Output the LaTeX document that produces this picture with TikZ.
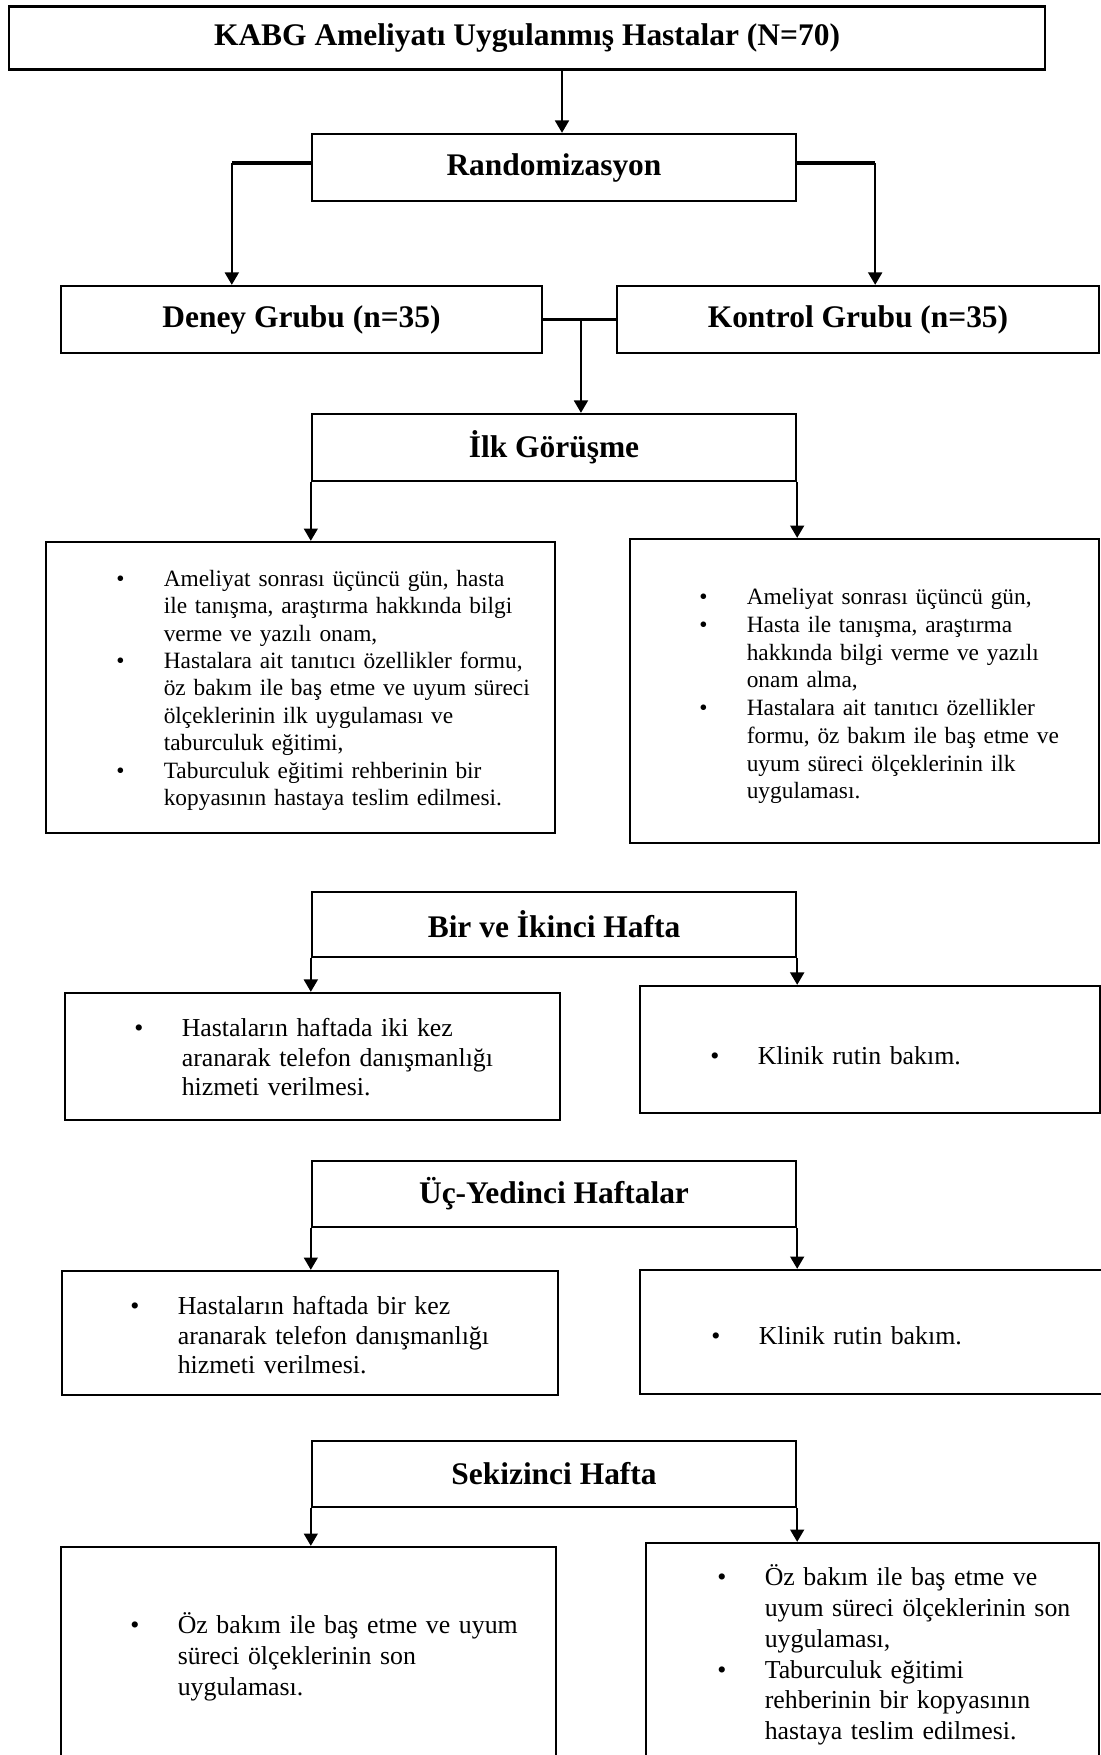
\documentclass[tikz,border=0pt]{standalone}
\usepackage{fontspec}
\setmainfont{Liberation Serif}
\usetikzlibrary{arrows.meta,calc,positioning}
\setlength{\parskip}{0pt}
\newcommand{\blt}[1]{\par\noindent\hangindent=27pt\hangafter=1\makebox[27pt][l]{\textbullet}\rule{0pt}{13.5pt}#1\par}

\begin{document}
\begin{tikzpicture}[x=0.02cm, y=-0.02cm,
  hbox/.style 2 args={draw, line width=1.4pt, inner sep=0pt, minimum width=#1cm, minimum height=#2cm, font=\bfseries\fontsize{17.9}{21}\selectfont},
  cbox/.style 2 args={draw, line width=1.4pt, inner sep=0pt, minimum width=#1cm, minimum height=#2cm},
  arr/.style={-{Triangle[length=7pt,width=8pt]}, line width=0.8pt},
  bar/.style={line width=1.9pt},
  txt/.style={anchor=north west, inner sep=0pt, text width=#1cm, execute at begin node={\raggedright\lineskiplimit=-20pt}}
]
\useasboundingbox (0,0) rectangle (1101,1755);
\clip (0,0) rectangle (1101,1755);

% headings
\node[hbox={20.72}{1.26}] (title) at (527,38) {KABG Ameliyatı Uygulanmış Hastalar (N=70)};
\node[hbox={9.68}{1.34}] (rand) at (554,167.5) {Randomizasyon};
\node[hbox={9.62}{1.34}] (deney) at (301.5,319.5) {Deney Grubu (n=35)};
\node[hbox={9.64}{1.34}] (kontrol) at (858,319.5) {Kontrol Grubu (n=35)};
\node[hbox={9.68}{1.34}] (ilk) at (554,447.5) {İlk Görüşme};
\node[hbox={9.68}{1.30}] (bir) at (554,924.5) {Bir ve İkinci Hafta};
\node[hbox={9.68}{1.32}] (uc) at (554,1194) {Üç-Yedinci Haftalar};
\node[hbox={9.68}{1.32}] (sek) at (554,1474) {Sekizinci Hafta};

% content boxes
\node[cbox={10.18}{5.82}] (ilkL) at (300.5,687.5) {};
\node[cbox={9.38}{6.08}] (ilkR) at (864.5,691) {};
\node[cbox={9.9}{2.54}] (birL) at (312.5,1056.5) {};
\node[cbox={9.2}{2.54}] (birR) at (870,1049.5) {};
\node[cbox={9.92}{2.48}] (ucL) at (310,1333) {};
\node[cbox={9.5}{2.48}] (ucR) at (877.5,1332) {};
\node[cbox={9.9}{5.06}] (sekL) at (308.5,1673.5) {};
\node[cbox={9.06}{5.14}] (sekR) at (872.5,1671.5) {};

% texts
\node[txt=8.5, font=\fontsize{13.3}{15.6}\selectfont] (ilkLt) at (116,558.5) {%
\blt{Ameliyat sonrası üçüncü gün, hasta\newline ile tanışma, araştırma hakkında bilgi\newline verme ve yazılı onam,}
\blt{Hastalara ait tanıtıcı özellikler formu,\newline öz bakım ile baş etme ve uyum süreci\newline ölçeklerinin ilk uygulaması ve\newline taburculuk eğitimi,}
\blt{Taburculuk eğitimi rehberinin bir\newline kopyasının hastaya teslim edilmesi.}};
\node[txt=7.9, font=\fontsize{13.3}{15.8}\selectfont] (ilkRt) at (699,576.5) {%
\blt{Ameliyat sonrası üçüncü gün,}
\blt{Hasta ile tanışma, araştırma\newline hakkında bilgi verme ve yazılı\newline onam alma,}
\blt{Hastalara ait tanıtıcı özellikler\newline formu, öz bakım ile baş etme ve\newline uyum süreci ölçeklerinin ilk\newline uygulaması.}};
\node[txt=8.4, font=\fontsize{14.7}{17}\selectfont] (birLt) at (134,1006) {%
\blt{Hastaların haftada iki kez\newline aranarak telefon danışmanlığı\newline hizmeti verilmesi.}};
\node[txt=7, font=\fontsize{14.7}{17}\selectfont] (birRt) at (710,1034) {%
\blt{Klinik rutin bakım.}};
\node[txt=8.4, font=\fontsize{14.7}{17}\selectfont] (ucLt) at (130,1284) {%
\blt{Hastaların haftada bir kez\newline aranarak telefon danışmanlığı\newline hizmeti verilmesi.}};
\node[txt=7, font=\fontsize{14.7}{17}\selectfont] (ucRt) at (711,1314) {%
\blt{Klinik rutin bakım.}};
\node[txt=8.4, font=\fontsize{14.7}{17.6}\selectfont] (sekLt) at (130,1602) {%
\blt{Öz bakım ile baş etme ve uyum\newline süreci ölçeklerinin son\newline uygulaması.}};
\node[txt=7.5, font=\fontsize{14.7}{17.6}\selectfont] (sekRt) at (717,1554) {%
\blt{Öz bakım ile baş etme ve\newline uyum süreci ölçeklerinin son\newline uygulaması,}
\blt{Taburculuk eğitimi\newline rehberinin bir kopyasının\newline hastaya teslim edilmesi.}};

% connectors
\coordinate (t1) at ($(rand.north)+(8,0)$);
\draw[arr] (t1 |- title.south) -- (t1);
\draw[bar] ($(rand.west)+(0,-4.5)$) -- ++(-79,0) coordinate (rl);
\draw[arr] (rl) -- (rl |- deney.north);
\draw[bar] ($(rand.east)+(0,-4.5)$) -- ++(78,0) coordinate (rr);
\draw[arr] (rr) -- (rr |- kontrol.north);
\draw[bar] (deney.east) -- (kontrol.west);
\coordinate (dk) at ($(deney.east)!0.52!(kontrol.west)$);
\draw[arr] (dk) -- (dk |- ilk.north);
\foreach \h/\l/\r in {ilk/ilkL/ilkR, bir/birL/birR, uc/ucL/ucR, sek/sekL/sekR}{
  \draw[arr] (\h.south west) -- (\h.south west |- \l.north);
  \draw[arr] (\h.south east) -- (\h.south east |- \r.north);
}
\end{tikzpicture}
\end{document}
